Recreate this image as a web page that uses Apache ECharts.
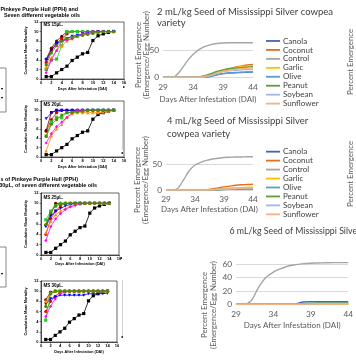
<!DOCTYPE html>
<html><head><meta charset="utf-8">
<script src="https://cdn.jsdelivr.net/npm/echarts@6/dist/echarts.min.js"></script>
<style>html,body{margin:0;padding:0;background:#fff;}#c{width:356px;height:364px;}</style>
</head><body><div id="c"></div><script>
// ---------- Left panels: cumulative mean mortality (days 1..14) ----------
const dai = [1,2,3,4,5,6,7,8,9,10,11,12,13,14];
const leftNames = ['Control','Canola','Coconut','Garlic','Olive','Peanut','Soybean','Sunflower'];
const controlMort = [0.5,0.5,1.3,2,2.7,3.9,4.6,5.3,5.6,8.1,9.1,9.5,9.8,10];

const ms15Canola   = [3.5,6,7.5,8.5,9.5,10,10,10,10,10,10,10,10,10];
const ms15Coconut  = [4.2,6.5,8,9,10,10,10,10,10,10,10,10,10,10];
const ms15Garlic   = [2,4,4.2,7,10,10,10,10,10,10,10,10,10,10];
const ms15Olive    = [4,6,7.5,8,8.5,9,9.2,9.5,9.6,9.8,10,10,10,10];
const ms15Peanut   = [2.5,4.5,6,7,8,8.5,9,9.3,9.5,9.7,9.8,10,10,10];
const ms15Soybean  = [1.3,4,6,8,8.2,8.5,9,9.5,10,10,10,10,10,10];
const ms15Sunflower= [3,5.5,7,8,8.5,8.8,9,9.2,9.4,9.6,9.8,10,10,10];

const ms20Canola   = [5.5,8,9.5,10,10,10,10,10,10,10,10,10,10,10];
const ms20Coconut  = [5.7,9.5,10,10,10,10,10,10,10,10,10,10,10,10];
const ms20Garlic   = [4.5,7.5,8.5,8.4,9.5,9.6,9.7,9.8,10,10,10,10,10,10];
const ms20Olive    = [8.2,9.5,10,10,10,10,10,10,10,10,10,10,10,10];
const ms20Peanut   = [1.3,4.5,6,7,8.5,9.3,9.5,9.5,9.5,9.5,9.5,9.6,9.8,10];
const ms20Soybean  = [3,5,6.5,7.5,8.5,9.5,10,10,10,10,10,10,10,10];
const ms20Sunflower= [4.4,7,8,9,9.5,9.6,9.7,9.8,10,10,10,10,10,10];

const ms25Canola   = [4,7,8.5,9.5,10,10,10,10,10,10,10,10,10,10];
const ms25Coconut  = [5.8,8,10,10,10,10,10,10,10,10,10,10,10,10];
const ms25Garlic   = [6.8,8.5,9.5,10,10,10,10,10,10,10,10,10,10,10];
const ms25Olive    = [5.5,7.5,8.5,9,9.5,9.8,10,10,10,10,10,10,10,10];
const ms25Peanut   = [4.3,6.5,7.8,8.5,9,9.5,9.8,10,10,10,10,10,10,10];
const ms25Soybean  = [2.8,5.5,7,8,8.8,9.3,9.6,9.8,10,10,10,10,10,10];
const ms25Sunflower= [5.9,8.2,9.5,9.8,10,10,10,10,10,10,10,10,10,10];

const ms30Canola   = [6,8,9,9.8,10,10,10,10,10,10,10,10,10,10];
const ms30Coconut  = [8.3,9.8,10,10,10,10,10,10,10,10,10,10,10,10];
const ms30Garlic   = [4.3,9.5,10,10,10,10,10,10,10,10,10,10,10,10];
const ms30Olive    = [7.5,8.5,8.8,9.2,9.2,9.2,9.2,9.2,9.2,9.5,9.5,9.5,9.5,9.6];
const ms30Peanut   = [8,9.7,10,10,10,10,10,10,10,10,10,10,10,10];
const ms30Soybean  = [5,7,8.5,9.5,9.8,10,10,10,10,10,10,10,10,10];
const ms30Sunflower= [7,9.5,10,10,10,10,10,10,10,10,10,10,10,10];

const leftTicksX = [0,16,2];   // min, max, step
const leftTicksY = [0,12,2];

// ---------- Right charts: percent emergence (DAI 29..44) ----------
const days = ['29','30','31','32','33','34','35','36','37','38','39','40','41','42','43','44'];
const oilNames = ['Canola','Coconut','Control','Garlic','Olive','Peanut','Soybean','Sunflower'];

const a2Canola    = [0,0,0,0,0,0,0,0.5,2,4.5,7,8,8.5,9,9.5,10];
const a2Coconut   = [0,0,0,0,0,0,0.5,2,5,9,13,16,19,21,23,24];
const a2Control   = [0,0,2,14,30,43,52,58,61.5,63.5,64.5,65,65,65,65,65];
const a2Garlic    = [0,0,0,0,0,0,0.5,2.5,6,10,13,16,18,20,21,22];
const a2Olive     = [0,0,0,0,0,0,0,0.5,2,5,7,8,9,9.5,10,10.5];
const a2Peanut    = [0,0,0,0,0,0,0.5,3,7,11,14,16,17,18,19,20];
const a2Soybean   = [0,0,0,0,0,0,0,1,4,8,11,12,13,14,14.5,15];
const a2Sunflower = [0,0,0,0,0,0,0,1.5,4,8,11,13,15,16,17,18];

const b4Canola    = [0,0,0,0,0,0,0,0,0.3,1,1.5,2,2.5,2.5,3,3];
const b4Coconut   = [0,0,0,0,0,0,0,0.5,2,4,6,7.5,9,10,10.5,11];
const b4Control   = [0,0,3,19,37,48,53,57,59.5,61,62.5,63,63.5,63.5,64,64];
const b4Garlic    = [0,0,0,0,0,0,0,0,0.5,1.5,2.5,3.5,4,4.5,5,5.5];
const b4Olive     = [0,0,0,0,0,0,0,0,0.3,0.8,1.2,1.5,2,2,2.5,2.5];
const b4Peanut    = [0,0,0,0,0,0,0,0,0.2,0.5,1,1.5,1.5,2,2,2];
const b4Soybean   = [0,0,0,0,0,0,0,0,0.3,1,1.5,2,2.5,3,3,3.5];
const b4Sunflower = [0,0,0,0,0,0,0,0,0.5,1.5,2,2.5,3,3.5,4,4];

const c6Canola    = [0,0,0,0,0,0,0,0,1,3.5,4,4,4,4,4,4];
const c6Coconut   = [0,0,0,0,0,0,0,0,0,0.3,0.5,0.5,0.8,1,1,1];
const c6Control   = [0,0.3,5,25,40,48,53,57,59,60.5,61.2,61.5,61.8,62,62,62];
const c6Garlic    = [0,0,0,0,0,0,0,0,0,0.2,0.5,0.5,0.5,0.5,0.5,0.5];
const c6Olive     = [0,0,0,0,0,0,0,0,0.5,1,1.5,2,2,2,2,2];
const c6Peanut    = [0,0,0,0,0,0,0,0,0.5,1,1.2,1.5,1.5,1.5,1.5,1.5];
const c6Soybean   = [0,0,0,0,0,0,0,0,0,0.3,0.5,0.8,0.8,1,1,1];
const c6Sunflower = [0,0,0,0,0,0,0,0,0,0.2,0.3,0.5,0.5,0.5,0.5,0.5];

const chartTitles = ['2 mL/kg Seed of Mississippi Silver cowpea\nvariety','4 mL/kg Seed of Mississippi Silver\ncowpea variety','6 mL/kg Seed of Mississippi Silver cowpea variety'];
const panelLabels = ['MS 15\u03bcL.','MS 20\u03bcL.','MS 25\u03bcL.','MS 30\u03bcL.'];
const yTitleRight = 'Percent Emergence\n(Emergence/Egg Number)';

// ---------- styles ----------
const leftColors = ['#000000','#e00000','#7a0000','#22cc22','#0000ff','#ff8c00','#ff00ff','#4f8a00'];
const leftSymbols = ['rect','circle','circle','rect','triangle','triangle','diamond','circle'];
const leftRot = [0,0,0,0,180,0,0,0];
const rightColors = ['#3c69b4','#e2701f','#a5a5a5','#ffc000','#5b9bd5','#5e9e3a','#a4b6e2','#f4b183'];
const RF = 'Lato, "Open Sans", sans-serif';
const LF = '"Liberation Sans", Arial, sans-serif';

const leftPanels = [
  {grid:{left:41,top:22,width:83,height:57}, xGap:8, data:[controlMort,ms15Canola,ms15Coconut,ms15Garlic,ms15Olive,ms15Peanut,ms15Soybean,ms15Sunflower]},
  {grid:{left:41,top:101,width:83,height:56}, xGap:8, data:[controlMort,ms20Canola,ms20Coconut,ms20Garlic,ms20Olive,ms20Peanut,ms20Soybean,ms20Sunflower]},
  {grid:{left:41,top:193,width:78,height:62}, xGap:7, data:[controlMort,ms25Canola,ms25Coconut,ms25Garlic,ms25Olive,ms25Peanut,ms25Soybean,ms25Sunflower]},
  {grid:{left:41,top:281,width:76,height:61}, xGap:8, data:[controlMort,ms30Canola,ms30Coconut,ms30Garlic,ms30Olive,ms30Peanut,ms30Soybean,ms30Sunflower]}
];
const rightCharts = [
  {grid:{left:163,top:50.7,width:90,height:26.6}, max:50, step:50, lm:6, xGap:18, yt:[142.5,55], data:[a2Canola,a2Coconut,a2Control,a2Garlic,a2Olive,a2Peanut,a2Soybean,a2Sunflower]},
  {grid:{left:166,top:164,width:87,height:26}, max:50, step:50, lm:5.5, xGap:15.5, yt:[141.5,180], data:[b4Canola,b4Coconut,b4Control,b4Garlic,b4Olive,b4Peanut,b4Soybean,b4Sunflower]},
  {grid:{left:236,top:264,width:148.5,height:40.3}, max:60, step:20, lm:6, xGap:17.5, yt:[209,305], data:[c6Canola,c6Coconut,c6Control,c6Garlic,c6Olive,c6Peanut,c6Soybean,c6Sunflower]}
];

const grids=[], xAxes=[], yAxes=[], series=[];
rightCharts.forEach((c,i)=>{
  grids.push(Object.assign({show:false}, c.grid));
  xAxes.push({type:'category', gridIndex:i, data:days, boundaryGap:false,
    axisLine:{show:true, lineStyle:{color:'#d9d9d9', width:1}}, axisTick:{show:false},
    axisLabel:{interval:4, margin:c.lm, fontSize:8.3, color:'#595959', fontFamily:RF},
    splitLine:{show:false},
    name:'Days After Infestation (DAI)', nameLocation:'middle', nameGap:c.xGap,
    nameTextStyle:{fontSize:8, color:'#595959', fontFamily:RF}});
  yAxes.push({type:'value', gridIndex:i, min:0, max:c.max, interval:c.step,
    axisLine:{show:false}, axisTick:{show:false},
    splitLine:{lineStyle:{color:'#d9d9d9', width:1}},
    axisLabel:{fontSize:8.3, color:'#595959', margin:4, fontFamily:RF}});
  c.data.forEach((arr,k)=>{
    series.push({name:oilNames[k], type:'line', xAxisIndex:i, yAxisIndex:i, data:arr,
      smooth:0.35, symbol:'none', clip:false, color:rightColors[k],
      lineStyle:{width:1.4, color:rightColors[k]}});
  });
});
leftPanels.forEach((p,j)=>{
  const gi = rightCharts.length + j;
  grids.push(Object.assign({show:true, borderColor:'#000', borderWidth:0.6, backgroundColor:'transparent'}, p.grid));
  xAxes.push({type:'value', gridIndex:gi, min:leftTicksX[0], max:leftTicksX[1], interval:leftTicksX[2],
    axisLine:{show:true, onZero:false, lineStyle:{color:'#000', width:0.6}},
    axisTick:{show:true, length:1.5, lineStyle:{width:0.5, color:'#000'}},
    axisLabel:{fontSize:4, fontWeight:'bold', color:'#000', margin:1.5, fontFamily:LF},
    splitLine:{show:false},
    name:'Days After Infestation (DAI)', nameLocation:'middle', nameGap:p.xGap,
    nameTextStyle:{fontSize:3.8, fontWeight:'bold', color:'#000', fontFamily:LF}});
  yAxes.push({type:'value', gridIndex:gi, min:leftTicksY[0], max:leftTicksY[1], interval:leftTicksY[2],
    axisLine:{show:true, onZero:false, lineStyle:{color:'#000', width:0.6}},
    axisTick:{show:true, length:1.5, lineStyle:{width:0.5, color:'#000'}},
    axisLabel:{fontSize:4, fontWeight:'bold', color:'#000', margin:2.5, fontFamily:LF},
    splitLine:{show:false},
    name:'Cumulative Mean Mortality', nameLocation:'middle', nameRotate:90, nameGap:13,
    nameTextStyle:{fontSize:3.8, fontWeight:'bold', color:'#000', fontFamily:LF}});
  p.data.forEach((arr,k)=>{
    series.push({name:panelLabels[j]+' '+leftNames[k], type:'line', xAxisIndex:gi, yAxisIndex:gi,
      data:dai.map((d,m)=>[d,arr[m]]), symbol:leftSymbols[k], symbolRotate:leftRot[k], symbolSize:3.2,
      showSymbol:true, color:leftColors[k], itemStyle:{color:leftColors[k]},
      lineStyle:{width:0.8, color:leftColors[k]}, z:3+k});
  });
});

const legendBase = {orient:'vertical', left:266, itemWidth:14, itemHeight:1.8, itemGap:0, icon:'rect',
  selectedMode:false, padding:0, data:oilNames,
  textStyle:{fontSize:8, lineHeight:8.95, color:'#404040', fontFamily:RF, padding:[0,0,0,-2]}};

const gText = (x,y,t,opt)=>({type:'text', x:x, y:y, silent:true, style:Object.assign({text:t, fill:'#000'}, opt||{})});
const vText = (x,y,t)=>({type:'text', x:x, y:y, rotation:Math.PI/2, silent:true,
  style:{text:t, font:'7.8px '+RF, fill:'#595959', align:'center', verticalAlign:'middle', lineHeight:8.6}});
const graphic = [
  gText(78,10,'Seeds of Pinkeye Purple Hull (PPH) and',{font:'bold 5.4px '+LF, align:'right', verticalAlign:'middle'}),
  gText(4,15.5,'Seven different vegetable oils',{font:'bold 5.4px '+LF, align:'left', verticalAlign:'middle'}),
  gText(78,180,'Seeds of Pinkeye Purple Hull (PPH)',{font:'bold 5.4px '+LF, align:'right', verticalAlign:'middle'}),
  gText(97,185.5,'with 30\u03bcL, of seven different vegetable oils',{font:'bold 5.4px '+LF, align:'right', verticalAlign:'middle'}),
  gText(43.5,24.5,panelLabels[0],{font:'bold 4.5px '+LF, verticalAlign:'middle'}),
  gText(43.5,104.5,panelLabels[1],{font:'bold 4.5px '+LF, verticalAlign:'middle'}),
  gText(43.5,197.5,panelLabels[2],{font:'bold 4.5px '+LF, verticalAlign:'middle'}),
  gText(43.5,285.5,panelLabels[3],{font:'bold 4.5px '+LF, verticalAlign:'middle'}),
  vText(rightCharts[0].yt[0], rightCharts[0].yt[1], yTitleRight),
  vText(rightCharts[1].yt[0], rightCharts[1].yt[1], yTitleRight),
  vText(rightCharts[2].yt[0], rightCharts[2].yt[1], yTitleRight),
  vText(350, 62, 'Percent Emergence'),
  vText(350, 174, 'Percent Emergence'),
  {type:'rect', silent:true, shape:{x:-10,y:68,width:16,height:44}, style:{fill:'none', stroke:'#555', lineWidth:0.7}},
  {type:'rect', silent:true, shape:{x:-10,y:247,width:16,height:40}, style:{fill:'none', stroke:'#555', lineWidth:0.7}},
  {type:'rect', silent:true, shape:{x:1,y:88,width:2,height:1.2}, style:{fill:'#222'}},
  {type:'rect', silent:true, shape:{x:1,y:97,width:2,height:1.2}, style:{fill:'#222'}},
  {type:'rect', silent:true, shape:{x:1,y:273,width:2,height:1.2}, style:{fill:'#222'}},
  {type:'line', silent:true, shape:{x1:124,y1:30,x2:124,y2:84}, style:{stroke:'#bbb', lineWidth:0.7}},
  {type:'line', silent:true, shape:{x1:122.5,y1:120,x2:122.5,y2:150}, style:{stroke:'#bbb', lineWidth:0.7}},
  {type:'line', silent:true, shape:{x1:122.5,y1:280,x2:122.5,y2:336}, style:{stroke:'#bbb', lineWidth:0.7}},
  {type:'rect', silent:true, shape:{x:123,y:86,width:1.5,height:2}, style:{fill:'#333'}},
  {type:'rect', silent:true, shape:{x:121.5,y:152,width:1.5,height:2}, style:{fill:'#333'}},
  {type:'rect', silent:true, shape:{x:120.5,y:257,width:1.5,height:2}, style:{fill:'#333'}},
  {type:'rect', silent:true, shape:{x:121.5,y:336,width:1.5,height:2}, style:{fill:'#333'}}
];

const chart = echarts.init(document.getElementById('c'), null, {renderer:'canvas'});
chart.setOption({
  animation:false,
  backgroundColor:'#fff',
  title:[
    {text:chartTitles[0], left:157, top:6.5, padding:0, textStyle:{fontSize:9.5, fontWeight:'normal', color:'#404040', fontFamily:RF, lineHeight:11}},
    {text:chartTitles[1], left:167, top:114, padding:0, textStyle:{fontSize:9.5, fontWeight:'normal', color:'#404040', fontFamily:RF, lineHeight:13.5}},
    {text:chartTitles[2], left:229.5, top:225.5, padding:0, textStyle:{fontSize:8.8, fontWeight:'normal', color:'#404040', fontFamily:RF, lineHeight:11}}
  ],
  legend:[
    Object.assign({}, legendBase, {top:36.5}),
    Object.assign({}, legendBase, {top:147.2})
  ],
  grid:grids, xAxis:xAxes, yAxis:yAxes, series:series, graphic:graphic
});
</script></body></html>
